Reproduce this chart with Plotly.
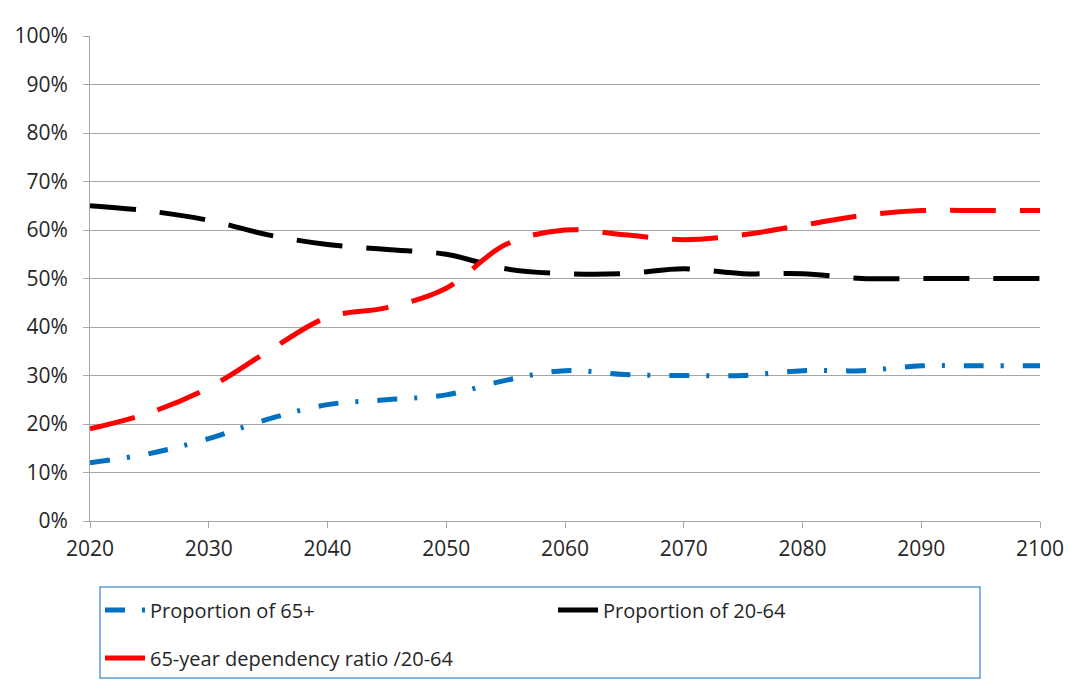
import plotly.graph_objects as go

years = [2020, 2025, 2030, 2035, 2040, 2045, 2050, 2055, 2060, 2065, 2070, 2075, 2080, 2085, 2090, 2095, 2100]
prop_65 = [12, 13.9, 17, 21, 24, 25, 26, 29, 31, 30.2, 30, 30, 31, 31, 32, 32, 32]
prop_20_64 = [65, 63.9, 62, 59, 57, 56, 55, 52, 51, 51, 52, 51, 51, 50, 50, 50, 50]
dep_ratio = [19, 22.3, 27.5, 35, 42, 44, 48, 57, 60, 59, 58, 59, 61, 63, 64, 64, 64]

names = ["Proportion of 65+", "Proportion of 20-64", "65-year dependency ratio /20-64"]
x_ticks = [2020, 2030, 2040, 2050, 2060, 2070, 2080, 2090, 2100]
y_ticks = [0, 10, 20, 30, 40, 50, 60, 70, 80, 90, 100]
y_tick_text = [f"{v}%" for v in y_ticks]

# pixel geometry of plot area (page coordinates)
PL, PR, PT, PB = 90, 1040, 36, 521
W, H = 1081, 681
OFF = 8  # page body margin
def px_x(p):
    return (p - PL) / (PR - PL)
def px_y(p):
    return (PB - p) / (PB - PT)

fig = go.Figure()
series = [
    (prop_65, names[0], "#0070C0", "20px,17px,3px,19px", "legend"),
    (prop_20_64, names[1], "#000000", "46px,24px", "legend"),
    (dep_ratio, names[2], "#FF0000", "46px,24px", "legend2"),
]
for vals, name, color, dash, lg in series:
    fig.add_trace(go.Scatter(
        x=years, y=vals, name=name, mode="lines", legend=lg,
        line=dict(color=color, width=5, dash=dash, shape="spline", smoothing=1.0),
    ))

font_family = "Open Sans, Liberation Sans, Arial"
axis_font = dict(family=font_family, size=21, color="#262626")
leg_font = dict(family=font_family, size=20, color="#262626")
fig.update_layout(
    width=W, height=H,
    margin=dict(l=PL - OFF, r=W - (PR - OFF), t=PT - OFF, b=H - (PB - OFF)),
    plot_bgcolor="white", paper_bgcolor="white",
    showlegend=True,
    legend=dict(
        orientation="h", x=px_x(100), y=px_y(610), xanchor="left", yanchor="middle",
        itemwidth=40, entrywidth=398, entrywidthmode="pixels",
        borderwidth=0, bgcolor="rgba(0,0,0,0)", font=leg_font,
    ),
    legend2=dict(
        orientation="h", x=px_x(100), y=px_y(658), xanchor="left", yanchor="middle",
        itemwidth=40, borderwidth=0, bgcolor="rgba(0,0,0,0)", font=leg_font,
    ),
    xaxis=dict(
        range=[2020, 2100], tickvals=x_ticks, ticktext=[str(t) for t in x_ticks],
        showgrid=False, zeroline=False, showline=True, linecolor="#A6A6A6", linewidth=1,
        ticks="outside", ticklen=6, tickcolor="#A6A6A6", tickfont=axis_font,
        ticklabelstandoff=3, automargin=False,
    ),
    yaxis=dict(
        range=[0, 100], tickvals=y_ticks, ticktext=y_tick_text,
        showgrid=True, gridcolor="#A6A6A6", gridwidth=1, zeroline=False,
        showline=True, linecolor="#A6A6A6", linewidth=1,
        ticks="outside", ticklen=6, tickcolor="#A6A6A6", tickfont=axis_font,
        ticklabelstandoff=11, automargin=False,
    ),
    shapes=[
        dict(type="line", xref="paper", yref="paper", x0=px_x(0), x1=px_x(1089),
             y0=px_y(7), y1=px_y(7), line=dict(color="#D9D9D9", width=1)),
        dict(type="rect", xref="paper", yref="paper", x0=px_x(100), x1=px_x(980),
             y0=px_y(678), y1=px_y(587), line=dict(color="#5B9BD5", width=1.5)),
    ],
)

fig.write_html("out.html")
